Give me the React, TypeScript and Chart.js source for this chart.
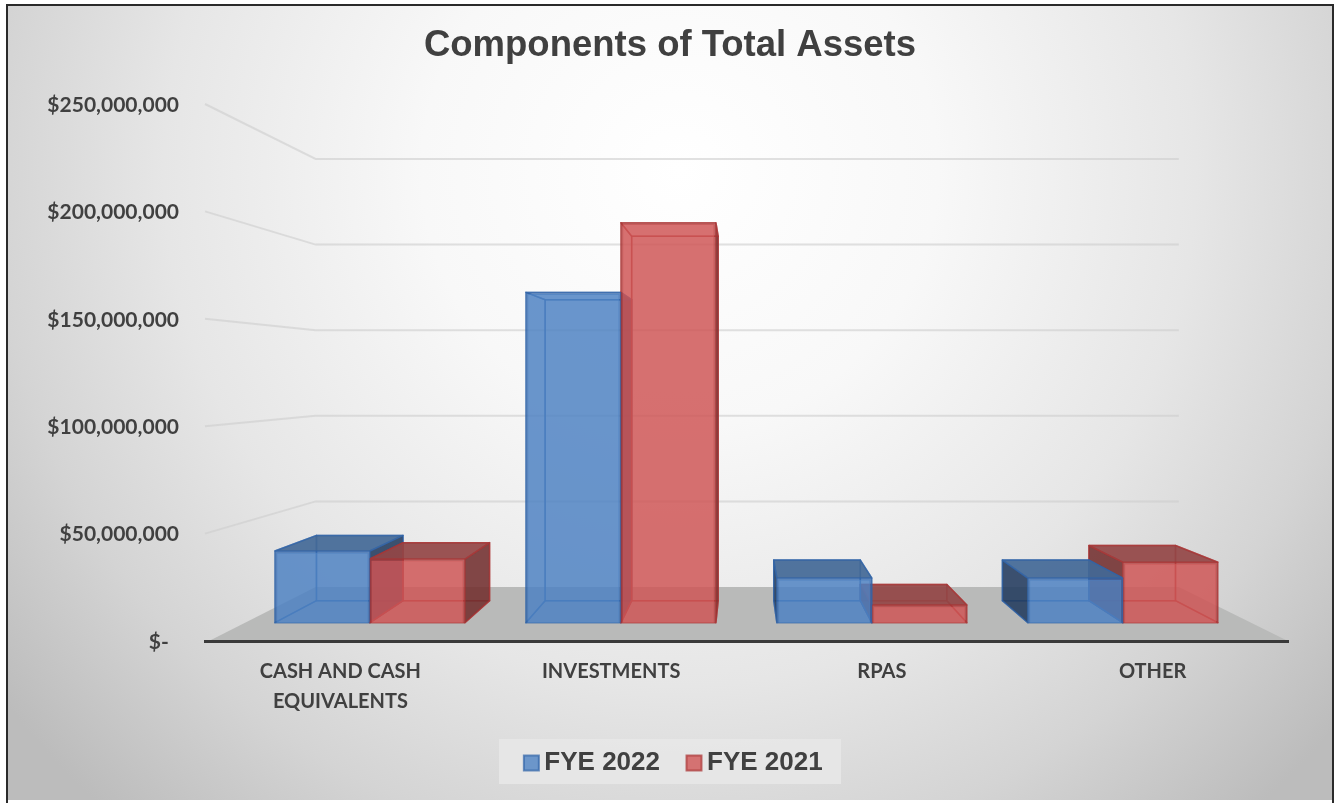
import React, { useEffect, useRef } from "react";
import { Chart, registerables } from "chart.js";

Chart.register(...registerables);

const categories = [["CASH AND CASH", "EQUIVALENTS"], "INVESTMENTS", "RPAS", "OTHER"];
const fye2022 = [36000000, 166000000, 22400000, 22400000];
const fye2021 = [32000000, 201000000, 8900000, 30400000];
const seriesNames = ["FYE 2022", "FYE 2021"];
const titleText = "Components of Total Assets";
const tickStep = 50000000;
const axisMax = 250000000;

const TEXT = "#404040";
const VP = { x: 742, y: 375 };
const BAR_DEPTH = 0.911;
const WALL_DEPTH = 0.797;
const WALL_VP_X = 750;

const palette = [
  { front: "rgba(78,130,195,0.8)", line: "rgba(48,100,168,0.7)", top: "rgba(66,104,150,0.9)", side: "rgba(34,58,92,0.85)", back: "rgba(60,110,175,0.18)" },
  { front: "rgba(208,85,85,0.8)", line: "rgba(170,52,52,0.7)", top: "rgba(146,70,70,0.9)", side: "rgba(112,46,46,0.85)", back: "rgba(190,70,70,0.18)" },
];

const poly = (ctx: CanvasRenderingContext2D, pts: number[][], fill: string, stroke?: string, lw = 1.5) => {
  ctx.beginPath();
  pts.forEach((p, i) => (i ? ctx.lineTo(p[0], p[1]) : ctx.moveTo(p[0], p[1])));
  ctx.closePath();
  ctx.fillStyle = fill;
  ctx.fill();
  if (stroke) {
    ctx.strokeStyle = stroke;
    ctx.lineWidth = lw;
    ctx.lineJoin = "round";
    ctx.stroke();
  }
};

const scene = {
  id: "scene",
  afterLayout(chart: any) {
    const lg = chart.legend;
    lg.left += 7;
    lg.right += 7;
    lg.top = 716;
  },
  beforeDraw(chart: any) {
    const { ctx, width, height, chartArea, scales } = chart;
    ctx.save();
    ctx.fillStyle = "#ffffff";
    ctx.fillRect(0, 0, width, height);
    const g = ctx.createRadialGradient(680, 170, 0, 680, 170, 860);
    g.addColorStop(0, "#ffffff");
    g.addColorStop(0.3, "#f8f8f8");
    g.addColorStop(0.6, "#e6e6e6");
    g.addColorStop(0.8, "#d4d4d4");
    g.addColorStop(1, "#bcbcbc");
    ctx.fillStyle = g;
    ctx.fillRect(8, 6, 1324, 794);
    ctx.fillStyle = "#2a2a2a";
    ctx.fillRect(6, 4, 2, 799);
    ctx.fillRect(6, 4, 1328, 2);
    ctx.fillRect(1332, 4, 2, 799);
    // legend panel
    ctx.fillStyle = "rgba(232,232,232,0.85)";
    ctx.fillRect(499, 739, 342, 45);
    // floor
    const { left, right } = chartArea;
    const y = scales.y;
    const y0 = y.getPixelForValue(0);
    const wy = (v: number) => VP.y + (v - VP.y) * WALL_DEPTH;
    const wx = (v: number) => WALL_VP_X + (v - WALL_VP_X) * WALL_DEPTH;
    poly(ctx, [[left + 4, y0], [wx(left), wy(y0)], [wx(right), wy(y0)], [right, y0]], "#b9bab9");
    // wall lines
    ctx.strokeStyle = "rgba(205,205,205,0.6)";
    ctx.lineWidth = 2;
    y.ticks.forEach((t: any) => {
      if (t.value === 0) return;
      const py = y.getPixelForValue(t.value);
      ctx.beginPath();
      ctx.moveTo(left, py);
      ctx.lineTo(wx(left), wy(py));
      ctx.lineTo(wx(right), wy(py));
      ctx.stroke();
    });
    ctx.restore();
  },
  beforeDatasetsDraw(chart: any) {
    const { ctx } = chart;
    ctx.save();
    // bar depth faces
    const a = chart.getDatasetMeta(0).data;
    const b = chart.getDatasetMeta(1).data;
    const dx = (v: number) => VP.x + (v - VP.x) * BAR_DEPTH;
    const dy = (v: number) => VP.y + (v - VP.y) * BAR_DEPTH;
    const faces = (el: any, c: any) => {
      const { x, y: top, base, width } = el.getProps(["x", "y", "base", "width"], true);
      const l = x - width / 2;
      const r = x + width / 2;
      const L = dx(l), R = dx(r), T = dy(top), B = dy(base);
      poly(ctx, [[L, T], [R, T], [R, B], [L, B]], c.back, c.line);
      poly(ctx, [[l, base], [r, base], [R, B], [L, B]], c.back, c.line);
      poly(ctx, [[l, top], [L, T], [L, B], [l, base]], L < l ? c.side : c.back, c.line);
      poly(ctx, [[r, top], [R, T], [R, B], [r, base]], R > r ? c.side : c.back, c.line);
      poly(ctx, [[l, top], [r, top], [R, T], [L, T]], T < top ? c.top : c.back, c.line);
    };
    a.forEach((el: any, i: number) => {
      const order = el.x + el.width / 2 < VP.x + 100 ? [0, 1] : [1, 0];
      order.forEach((s) => faces(s === 0 ? el : b[i], palette[s]));
    });
    ctx.restore();
  },
};

const money = (v: number) => (v === 0 ? "$-\u00A0\u00A0" : "$" + v.toLocaleString("en-US"));

export default function App() {
  const ref = useRef<HTMLCanvasElement>(null);
  useEffect(() => {
    document.body.style.margin = "0";
    const chart = new Chart(ref.current as HTMLCanvasElement, {
      type: "bar",
      data: {
        labels: categories as any,
        datasets: [fye2022, fye2021].map((vals, s) => ({
          label: seriesNames[s],
          data: vals.map((v, i) => ({ x: i, y: v })),
          xAxisID: "xb",
          yAxisID: "yb",
          backgroundColor: palette[s].front,
          borderColor: palette[s].line,
          borderWidth: 2,
          barThickness: 95,
        })) as any,
      },
      plugins: [scene],
      options: {
        animation: false,
        responsive: false,
        devicePixelRatio: 1,
        layout: { padding: { left: 6, right: 0, top: 0, bottom: 0 } },
        scales: {
          x: {
            type: "category",
            offset: true,
            grid: { display: false },
            border: { display: true, color: "#3a3a3a", width: 3 },
            ticks: {
              autoSkip: false,
              maxRotation: 0,
              padding: 8,
              color: TEXT,
              font: { family: "Lato", weight: "bold", size: 20, lineHeight: 1.5 },
            },
            afterFit: (s: any) => { s.height = 102; },
          },
          y: {
            type: "linear",
            min: 0,
            max: axisMax,
            grid: { display: false, drawTicks: false },
            border: { display: false },
            ticks: {
              stepSize: tickStep,
              padding: 26,
              labelOffset: 1,
              color: TEXT,
              font: { family: "Lato", weight: "bold", size: 21 },
              callback: (v: any) => money(Number(v)),
            },
            afterFit: (s: any) => { s.width = 199; },
          },
          xb: { type: "linear", display: false, offset: false, min: -0.657, max: 3.658 },
          yb: {
            type: "linear",
            position: "right",
            min: -9200000,
            max: 260650000,
            grid: { display: false, drawTicks: false },
            border: { display: false },
            ticks: { display: false },
            afterFit: (s: any) => { s.width = 46; },
          },
        },
        plugins: {
          title: {
            display: true,
            text: titleText,
            color: TEXT,
            padding: { top: 24, bottom: 36.2 },
            font: { family: "Liberation Sans", weight: "bold", size: 36.5, lineHeight: 1.2 },
          },
          legend: {
            position: "bottom",
            maxHeight: 60,
            labels: {
              usePointStyle: true,
              pointStyle: "rect",
              boxWidth: 0.01,
              boxHeight: 15,
              padding: 34,
              color: TEXT,
              font: { family: "Liberation Sans", weight: "bold", size: 26 },
            },
          },
          tooltip: { enabled: false },
        },
      } as any,
    });
    return () => chart.destroy();
  }, []);
  return <canvas ref={ref} width={1334} height={803} style={{ display: "block" }} />;
}
